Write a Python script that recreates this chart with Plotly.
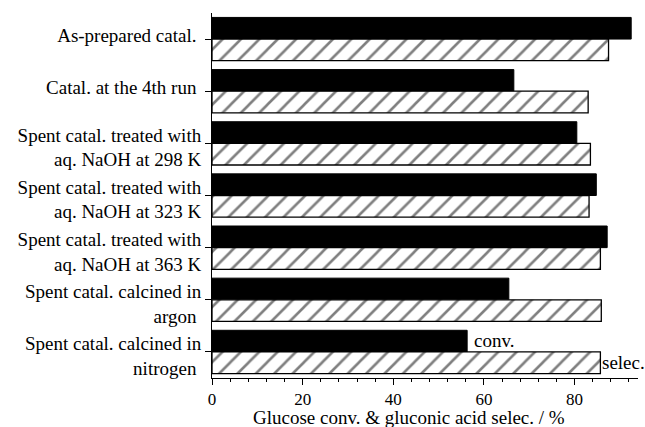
import plotly.graph_objects as go

# Catalyst treatments (top to bottom) and measured performance, %
catalysts = [
    "As-prepared catal.\u00a0",
    "Catal. at the 4th run\u00a0",
    "Spent catal. treated with<br>aq. NaOH at 298 K",
    "Spent catal. treated with<br>aq. NaOH at 323 K",
    "Spent catal. treated with<br>aq. NaOH at 363 K",
    "Spent catal. calcined in<br>argon\u00a0",
    "Spent catal. calcined in<br>nitrogen\u00a0",
]
conversion = [92.5, 66.6, 80.5, 84.8, 87.2, 65.5, 56.3]
selectivity = [87.5, 83.0, 83.5, 83.2, 85.7, 85.9, 85.7]

xticks = [0, 20, 40, 60, 80]
x_title = "Glucose conv. & gluconic acid selec. / %"
positions = list(range(len(catalysts)))
single = [p for p in positions if "<br>" not in catalysts[p]]
double = [p for p in positions if "<br>" in catalysts[p]]

FAMILY = "Liberation Serif, Times New Roman, serif"
FONT = dict(family=FAMILY, size=19, color="black")
TICKFONT = dict(family=FAMILY, size=17, color="black")

fig = go.Figure()
fig.add_trace(go.Bar(
    y=positions, x=conversion, orientation="h", name="conv.",
    marker=dict(color="black", line=dict(color="black", width=1)),
))
fig.add_trace(go.Bar(
    y=positions, x=selectivity, orientation="h", name="selec.",
    marker=dict(
        color="white",
        line=dict(color="black", width=1.3),
        pattern=dict(shape="/", fgcolor="black", bgcolor="white", size=13, solidity=0.2),
    ),
))

# series labels next to the last pair of bars
last = positions[-1]
fig.add_annotation(x=conversion[-1], y=last - 0.21, text="conv.", showarrow=False,
                   xanchor="left", xshift=5, font=FONT)
fig.add_annotation(x=selectivity[-1], y=last + 0.21, text="selec.", showarrow=False,
                   xanchor="left", xshift=0, font=FONT)

# x-axis title, set slightly left of the plot centre
fig.add_annotation(xref="paper", yref="paper", x=0.462, y=-0.107, text=x_title,
                   showarrow=False, xanchor="center", yanchor="middle", font=FONT)

fig.update_layout(
    width=645, height=427,
    margin=dict(l=212, r=7, t=13, b=49, autoexpand=False),
    paper_bgcolor="white", plot_bgcolor="white",
    barmode="group", bargap=0.17, bargroupgap=0,
    showlegend=False,
    font=FONT,
)
fig.update_xaxes(
    range=[0, 94], tickvals=xticks, ticks="outside", ticklen=6, tickwidth=1,
    tickcolor="black", showline=True, linecolor="black", linewidth=1,
    showgrid=False, zeroline=False, ticklabelstandoff=0,
    minor=dict(dtick=4, tick0=0, ticks="outside", ticklen=3, tickcolor="black", showgrid=False),
    tickfont=TICKFONT,
)
# two-line category labels
fig.update_layout(yaxis=dict(
    range=[6.5, -0.5], tickvals=double, ticktext=[catalysts[p] for p in double],
    ticks="outside", ticklen=6, tickwidth=1, tickcolor="black",
    showline=True, linecolor="black", linewidth=1, ticklabelshift=-4,
    showgrid=False, zeroline=False, tickfont=FONT,
))
# one-line category labels on an overlaid axis
fig.update_layout(yaxis2=dict(
    overlaying="y", side="left", range=[6.5, -0.5],
    tickvals=single, ticktext=[catalysts[p] for p in single],
    ticks="outside", ticklen=6, tickwidth=1, tickcolor="black",
    showline=False, ticklabelshift=4,
    showgrid=False, zeroline=False, tickfont=FONT,
))
fig.add_trace(go.Scatter(x=[None], y=[None], yaxis="y2", showlegend=False, hoverinfo="skip"))

fig.write_html("out.html")
